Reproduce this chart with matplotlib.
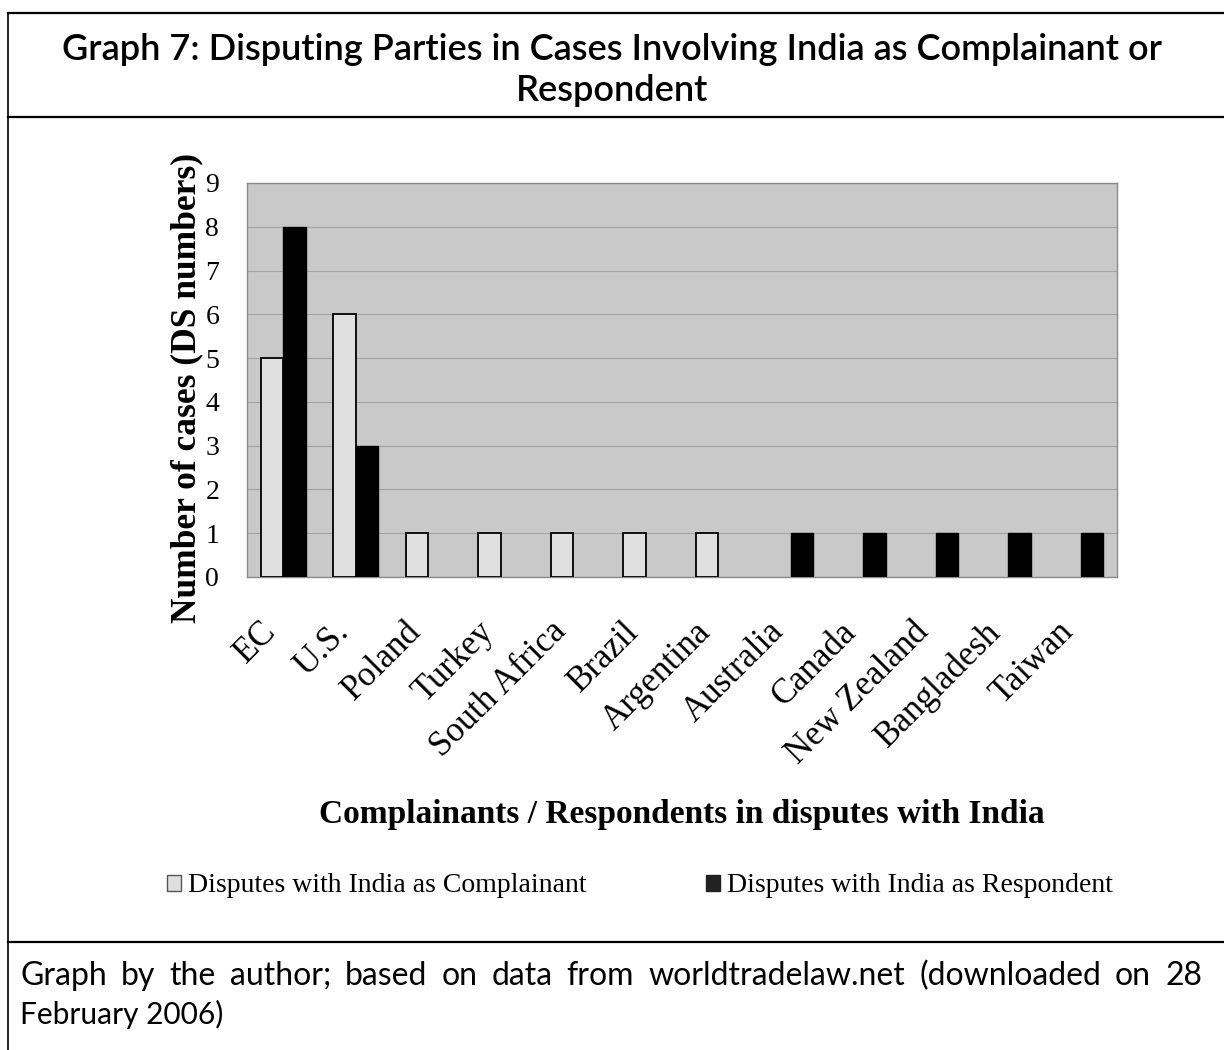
import matplotlib
matplotlib.use("Agg")
import matplotlib.pyplot as plt
from matplotlib.lines import Line2D
from matplotlib.patches import Patch
import matplotlib.transforms as mtransforms
import numpy as np

categories = ["EC", "U.S.", "Poland", "Turkey", "South Africa", "Brazil",
              "Argentina", "Australia", "Canada", "New Zealand", "Bangladesh", "Taiwan"]
complainant = [5, 6, 1, 1, 1, 1, 1, 0, 0, 0, 0, 0]
respondent = [8, 3, 0, 0, 0, 0, 0, 1, 1, 1, 1, 1]
yticks = list(range(0, 10))

title = "Graph 7: Disputing Parties in Cases Involving India as Complainant or\nRespondent"
ylabel = "Number of cases (DS numbers)"
xlabel = "Complainants / Respondents in disputes with India"
leg_c = "Disputes with India as Complainant"
leg_r = "Disputes with India as Respondent"
footer1 = "Graph by the author; based on data from worldtradelaw.net (downloaded on 28"
footer2 = "February 2006)"

W, H = 1224, 1050
fig = plt.figure(figsize=(W / 100, H / 100), dpi=100)
fig.patch.set_facecolor("white")

serif = ["Liberation Serif", "DejaVu Serif"]
sans = ["Lato", "DejaVu Sans"]

# frame lines
def hline(y, x0=8, x1=W):
    fig.add_artist(Line2D([x0 / W, x1 / W], [1 - y / H, 1 - y / H], color="black", lw=1.6))
hline(13)
hline(117)
hline(942)
fig.add_artist(Line2D([8 / W, 8 / W], [1 - 13 / H, 0], color="black", lw=1.2))

fig.text(0.5, 1 - 70 / H, title, ha="center", va="center", fontsize=26,
         family=sans, fontweight="semibold", linespacing=1.3)

ax = fig.add_axes([247 / W, 1 - 577 / H, (1117 - 247) / W, (577 - 183) / H])
ax.set_facecolor("#c9c9c9")
x = np.arange(len(categories))
bw = 0.31
bc = ax.bar(x - bw / 2, complainant, width=bw, color="#e0e0e0", edgecolor="black", linewidth=1.3, zorder=3)
br = ax.bar(x + bw / 2, respondent, width=bw, color="black", edgecolor="black", linewidth=1.0, zorder=3)
for p in list(bc) + list(br):
    if p.get_height() == 0:
        p.set_visible(False)
ax.set_xlim(-0.5, len(categories) - 0.5)
ax.set_ylim(0, 9)
ax.set_yticks(yticks)
ax.set_yticklabels([str(v) for v in yticks], fontsize=20, family=serif)
ax.grid(axis="y", color="#a4a4a4", lw=0.8, zorder=1)
ax.tick_params(axis="both", length=0)
ax.tick_params(axis="y", pad=20)
ax.set_xticks(x)
ax.set_xticklabels(categories, rotation=45, ha="right", va="center", rotation_mode="anchor",
                   fontsize=25, family=serif)
ax.tick_params(axis="x", pad=36)
shift = mtransforms.ScaledTranslation(-12 / 100, 0, fig.dpi_scale_trans)
for lab in ax.get_xticklabels():
    lab.set_transform(lab.get_transform() + shift)
for s in ax.spines.values():
    s.set_color("#8a8a8a")
    s.set_linewidth(1.0)

fig.text(187 / W, 1 - 388 / H, ylabel, rotation=90, ha="center", va="center",
         fontsize=25.5, fontweight="bold", family=serif)
fig.text(682 / W, 1 - 815 / H, xlabel, ha="center", va="center",
         fontsize=24, fontweight="bold", family=serif)

# legend
handles = [Patch(facecolor="#dedede", edgecolor="#555555", label=leg_c),
           Patch(facecolor="#222222", edgecolor="#222222", label=leg_r)]
fig.legend(handles=handles, loc="center", bbox_to_anchor=(640 / W, 1 - 886 / H),
           ncol=2, frameon=False, prop={"family": serif, "size": 20},
           handlelength=0.5, handleheight=0.5, handletextpad=0.25, columnspacing=4.3)

# footer, first line justified across the width
renderer = fig.canvas.get_renderer()
words = footer1.split(" ")
x0, x1 = 20, 1202
ty = 1 - 976 / H
objs = [fig.text(0, ty, w, ha="left", va="center", fontsize=23, family=sans) for w in words]
widths = [o.get_window_extent(renderer=renderer).width for o in objs]
gap = (x1 - x0 - sum(widths)) / (len(words) - 1)
cur = x0
for o, wd in zip(objs, widths):
    o.set_x(cur / W)
    cur += wd + gap
fig.text(20 / W, 1 - 1014 / H, footer2, ha="left", va="center", fontsize=21.5, family=sans)

fig.savefig("out.png", dpi=100, facecolor="white")
